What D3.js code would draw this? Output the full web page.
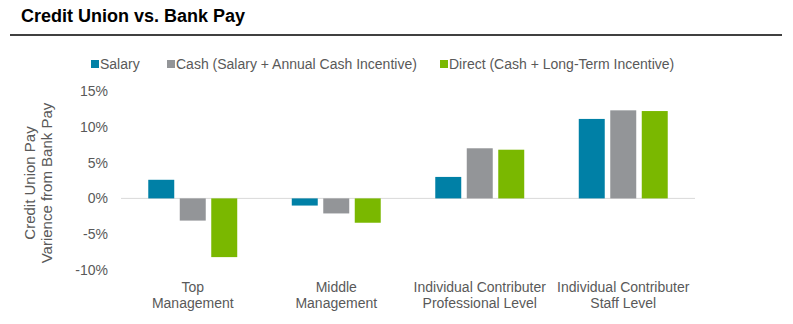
<!DOCTYPE html>
<html><head><meta charset="utf-8">
<script src="https://cdn.jsdelivr.net/npm/d3@7"></script>
<style>body{margin:0;background:#fff;} svg{display:block;font-family:"Liberation Sans",Arial,sans-serif;}</style>
</head><body>
<svg id="c" width="793" height="324"></svg>
<script>
const categories = [["Top","Management"],["Middle","Management"],["Individual Contributer","Professional Level"],["Individual Contributer","Staff Level"]];
const seriesNames = ["Salary","Cash (Salary + Annual Cash Incentive)","Direct (Cash + Long-Term Incentive)"];
const salary = [2.6, -1.0, 3.0, 11.1];
const cash = [-3.1, -2.1, 7.0, 12.3];
const direct = [-8.2, -3.4, 6.8, 12.2];
const yTicks = [-10, -5, 0, 5, 10, 15];
const colors = ["#0080A6", "#939598", "#7AB800"];

const svg = d3.select("#c");
const values = [salary, cash, direct];
const catKeys = categories.map(c => c.join(" "));

// Title
svg.append("text").attr("x", 21).attr("y", 22).attr("font-size", 18).attr("font-weight", "bold").attr("fill", "#000").text("Credit Union vs. Bank Pay");
svg.append("line").attr("x1", 10).attr("x2", 782).attr("y1", 35).attr("y2", 35).attr("stroke", "#000").attr("stroke-width", 1.3);

const x0 = d3.scaleBand().domain(catKeys).range([121, 695]).paddingInner(0.38).paddingOuter(0.19);
const x1 = d3.scaleBand().domain(seriesNames).range([0, x0.bandwidth()]).paddingInner(0.175);
const y = d3.scaleLinear().domain([-10, 15]).range([270, 91]);

// zero line
svg.append("line").attr("x1", 121).attr("x2", 695).attr("y1", y(0)).attr("y2", y(0)).attr("stroke", "#d9d9d9").attr("stroke-width", 1);

// y axis labels
const yAxis = d3.axisLeft(y).tickValues(yTicks).tickSize(0).tickPadding(0).tickFormat(d => d + "%");
const ya = svg.append("g").attr("transform", "translate(108,0)").call(yAxis);
ya.select(".domain").remove();
ya.selectAll("text").attr("font-size", 14).attr("fill", "#595959").attr("font-family", "Liberation Sans, Arial, sans-serif");

// bars
seriesNames.forEach((s, si) => {
  svg.append("g").selectAll("rect").data(values[si]).join("rect")
    .attr("x", (d, i) => x0(catKeys[i]) + x1(s))
    .attr("width", x1.bandwidth())
    .attr("y", d => y(Math.max(0, d)))
    .attr("height", d => Math.abs(y(d) - y(0)))
    .attr("fill", colors[si]);
});

// category labels
const cl = svg.append("g");
categories.forEach((c, i) => {
  const t = cl.append("text").attr("text-anchor", "middle").attr("font-size", 14).attr("fill", "#595959");
  c.forEach((line, li) => {
    t.append("tspan").attr("x", x0(catKeys[i]) + x0.bandwidth() / 2).attr("y", 292 + li * 16).text(line);
  });
});

// y title
const yt = svg.append("text").attr("transform", "translate(0,183) rotate(-90)").attr("text-anchor", "middle").attr("font-size", 15).attr("fill", "#595959");
yt.append("tspan").attr("x", 0).attr("y", 35).text("Credit Union Pay");
yt.append("tspan").attr("x", 0).attr("y", 52).text("Varience from Bank Pay");

// legend
const legendX = [91, 167, 440];
const lg = svg.append("g");
seriesNames.forEach((s, i) => {
  lg.append("rect").attr("x", legendX[i]).attr("y", 60).attr("width", 8).attr("height", 8).attr("fill", colors[i]);
  lg.append("text").attr("x", legendX[i] + 9).attr("y", 69).attr("font-size", 14).attr("fill", "#595959").text(s);
});
</script>
</body></html>
